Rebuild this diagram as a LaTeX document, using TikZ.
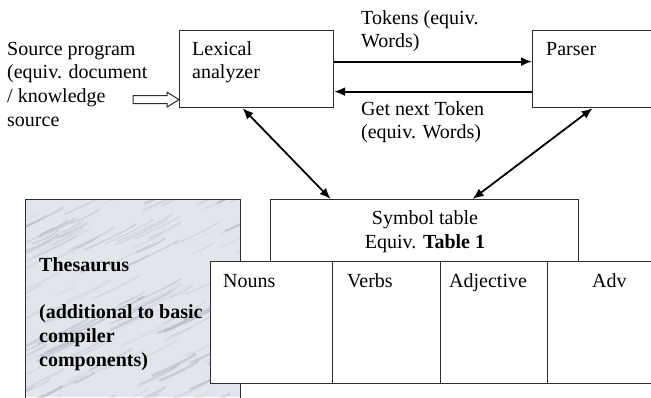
\documentclass[tikz,border=0pt]{standalone}
\usepackage{fontspec}
\setmainfont{Liberation Serif}
\usetikzlibrary{arrows.meta}
\definecolor{marble}{RGB}{226,229,235}
\definecolor{vein}{RGB}{135,146,166}
\definecolor{boxline}{RGB}{45,45,45}

\begin{document}
\begin{tikzpicture}[x=1pt,y=-1pt,
  font=\fontsize{20}{23.6}\selectfont,
  box/.style={draw=boxline, line width=1.2pt, inner sep=0pt, anchor=north west},
  cell/.style={box, fill=white, minimum height=122pt},
  txt/.style={inner sep=0pt, anchor=base west, align=left},
  flow/.style={line width=1.8pt, -{Latex[length=11pt,width=9pt]}},
  both/.style={line width=1.8pt, {Latex[length=11pt,width=9pt]}-{Latex[length=11pt,width=9pt]}}]
\useasboundingbox (0,0) rectangle (651,397);

% draw the marble behind the thesaurus
\begin{scope}
\clip (25,199) rectangle (240,397);
\fill[marble] (25,199) rectangle (240,397);
\pgfmathsetseed{11}
\foreach \i in {1,...,140} {
  \pgfmathsetmacro{\px}{-10+250*rnd}
  \pgfmathsetmacro{\py}{199+220*rnd}
  \pgfmathsetmacro{\op}{0.08+0.25*rnd}
  \pgfmathsetmacro{\lw}{0.6+2.2*rnd}
  \pgfmathsetmacro{\dx}{20+40*rnd}
  \draw[vein, opacity=\op, line width=\lw pt] (\px,\py) .. controls +(8,-3) and +(-8,6) .. +(\dx,-0.5*\dx);
}
\end{scope}

% draw the boxes
\node[box, minimum width=215pt, minimum height=202pt] (thes) at (25,199) {};
\node[box, minimum width=154pt, minimum height=77pt] (lex) at (179,30) {};
\node[box, minimum width=122pt, minimum height=77pt] (parser) at (532,30) {};
\node[box, minimum width=308pt, minimum height=62pt] (symtab) at (270,199) {};

% draw the table row
\node[cell, minimum width=122pt] (nouns) at (210,261) {};
\node[cell, minimum width=108pt] (verbs) at (332,261) {};
\node[cell, minimum width=107pt] (adj) at (440,261) {};
\node[cell, minimum width=106pt] (adv) at (547,261) {};

% draw the connectors
\draw[flow] ([yshift=7.5pt]lex.east) -- ([yshift=7.5pt]parser.west);
\draw[flow] ([yshift=-22.5pt]parser.west) -- ([yshift=-22.5pt]lex.east);
\draw[both] ([xshift=-14pt]lex.south) -- ([xshift=-94pt]symtab.north);
\draw[both] ([xshift=-1pt]parser.south) -- ([xshift=48pt]symtab.north);
\draw[boxline, line width=1pt, fill=white] ([yshift=-30.5pt]lex.west) coordinate (srcin)
  -- ++(-12,-7.5) -- ++(0,3.5) -- ++(-34,0) -- ++(0,8) -- ++(34,0) -- ++(0,3.5) -- cycle;

% draw the texts (base = last line)
\node[txt] (src) at (7,126) {Source program\\(equiv. document\\/ knowledge\\source};
\node[txt] (lexlbl) at (192,78.6) {Lexical\\analyzer};
\node[txt] (parlbl) at (546,55) {Parser};
\node[txt] (toklbl) at (361,47.6) {Tokens (equiv.\\Words)};
\node[txt] (getlbl) at (361,138.6) {Get next Token\\(equiv. Words)};
\node[inner sep=0pt, anchor=base, align=center] (symlbl) at (425,248)
  {Symbol table\\Equiv. \textbf{Table 1}};
\node[txt, font=\fontsize{20}{23.6}\selectfont\bfseries] (theslbl) at (39,366)
  {Thesaurus\\ \\(additional to basic\\compiler\\components)};
\node[txt] (nounlbl) at (223,287) {Nouns};
\node[txt] (verblbl) at (347,287) {Verbs};
\node[txt] (adjlbl) at (449,287) {Adjective};
\node[txt] (advlbl) at (592,287) {Adv};
\end{tikzpicture}
\end{document}
